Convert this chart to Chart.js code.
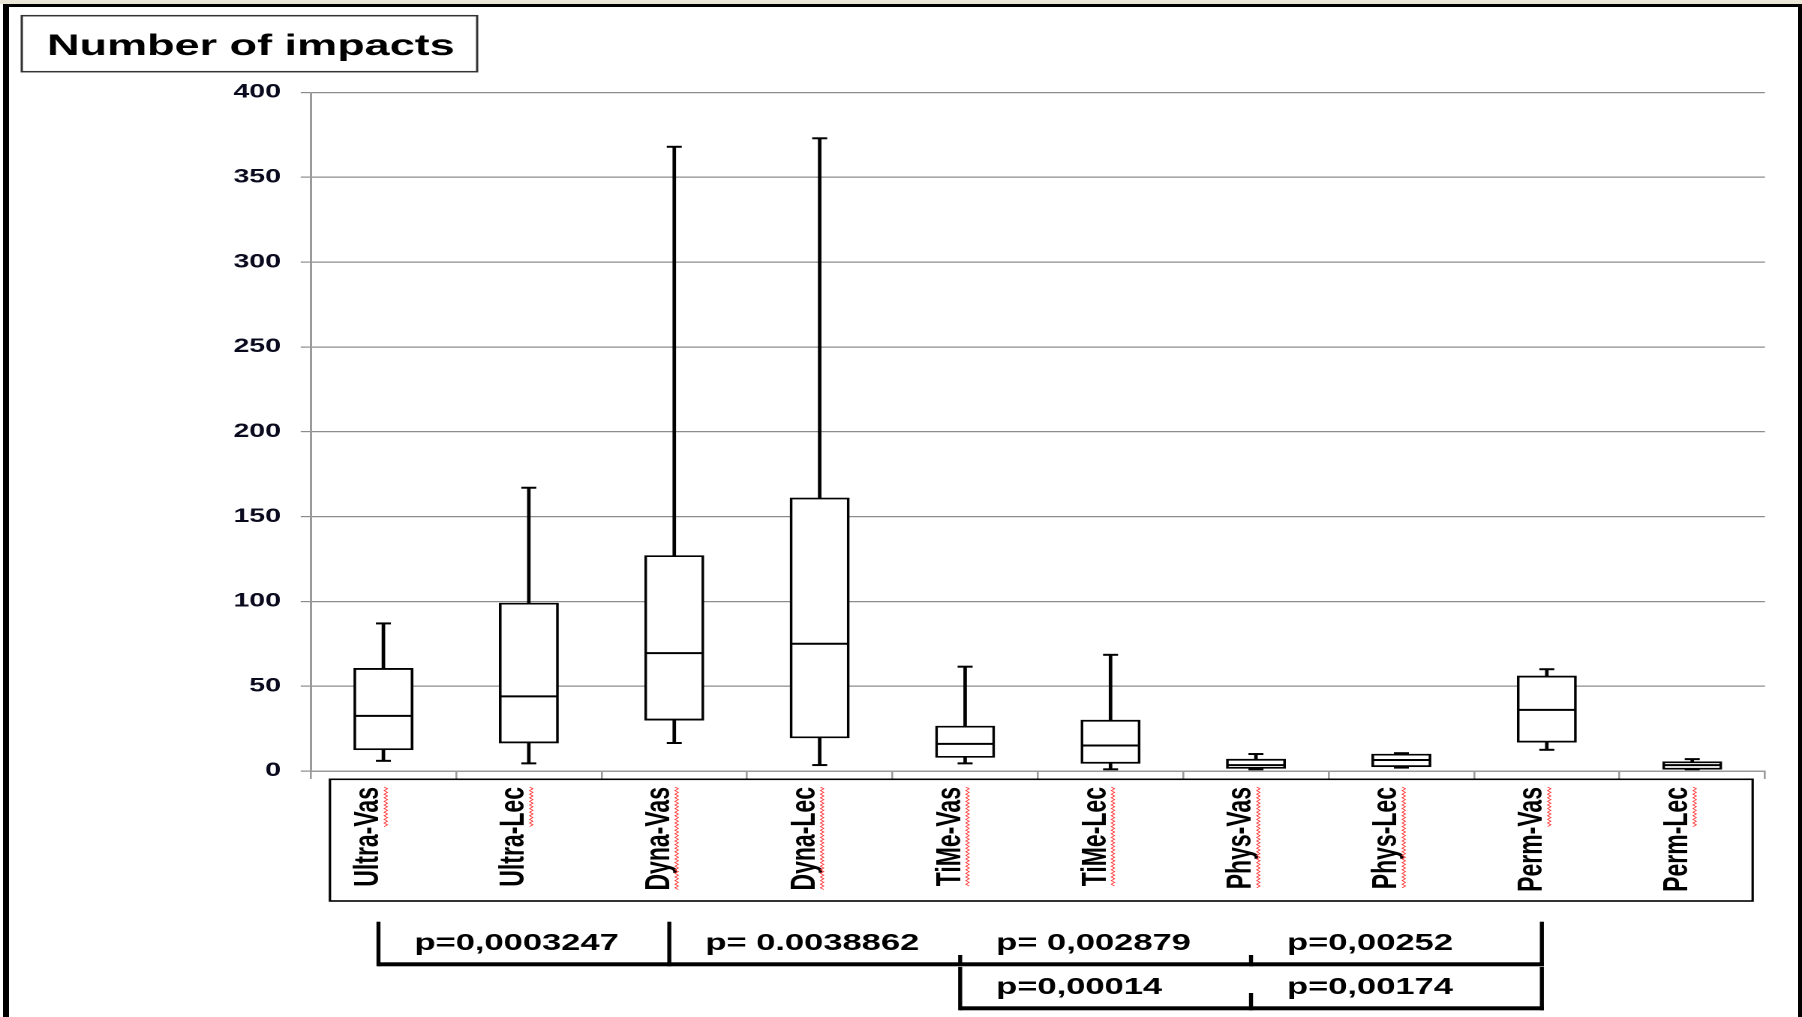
<!DOCTYPE html>
<html>
<head>
<meta charset="utf-8">
<script src="https://cdn.jsdelivr.net/npm/chart.js@4.4.1/dist/chart.umd.min.js"></script>
<style>
html,body{margin:0;padding:0;width:1802px;height:1017px;overflow:hidden;background:#fff;}
#strip{position:absolute;left:0;top:0;width:1802px;height:4px;background:#ebe7d6;}
#frame{position:absolute;left:3px;top:4px;width:1789px;height:1100px;border-left:6px solid #000;border-top:3px solid #000;border-right:4px solid #000;}
#wrap{position:absolute;left:0;top:0;width:1201px;height:1017px;transform:scaleX(1.500416);transform-origin:0 0;}
</style>
</head>
<body>
<div id="strip"></div>
<div id="frame"></div>
<div id="wrap"><canvas id="c" width="1201" height="1017"></canvas></div>
<script>
// ---- data ----
const categories   = ['Ultra-Vas','Ultra-Lec','Dyna-Vas','Dyna-Lec','TiMe-Vas','TiMe-Lec','Phys-Vas','Phys-Lec','Perm-Vas','Perm-Lec'];
const minValues    = [6,    4.5,  16.5, 3.5,  4.5,  1,    1,    2,    12.5, 1];
const q1Values     = [12.5, 16.5, 30,   19.5, 8,    4.5,  1.5,  2.5,  17,   1];
const medianValues = [32.5, 44,   69.5, 75,   16,   15,   3.5,  6.5,  36,   3.5];
const q3Values     = [60.5, 99,   127,  161,  26.5, 30,   7,    10,   56,   5.5];
const maxValues    = [87,   167,  368,  373,  61.5, 68.5, 10,   10.5, 60,   7];
const yTickValues  = [0, 50, 100, 150, 200, 250, 300, 350, 400];
const titleText    = 'Number of impacts';
const pRow1Labels  = ['p=0,0003247', 'p= 0.0038862', 'p= 0,002879', 'p=0,00252'];
const pRow2Labels  = ['p=0,00014', 'p=0,00174'];
const row1Anchors  = [0, 2, 4, 6, 8];
const row1Tall     = [true, true, false, false, true];
const row2Anchors  = [4, 6, 8];
const row2Tall     = [true, false, true];
const squiggleFull = [false, false, true, true, true, true, true, true, false, false];

const LABEL_FONT = {family: 'Liberation Sans', weight: 'bold', size: 23};
const X_TICK_LEN = 8, X_TICK_PAD = 8, X_LABEL_OFFSET = -9.7;

const deco = {
  id: 'deco',
  afterDraw(chart) {
    const ctx = chart.ctx, xs = chart.scales.x;
    ctx.save();
    // title box
    ctx.strokeStyle = '#333'; ctx.lineWidth = 1.5;
    ctx.strokeRect(14.5, 15.7, 303.5, 56);
    ctx.fillStyle = '#000';
    ctx.font = 'bold 30px "Liberation Sans"';
    ctx.textAlign = 'center'; ctx.textBaseline = 'alphabetic';
    ctx.fillText(titleText, 167.2, 55);
    // category label box
    ctx.strokeStyle = '#000'; ctx.lineWidth = 1.6;
    ctx.strokeRect(219.9, 779.3, 948.2, 121.7);
    // spell-check squiggles
    ctx.font = 'bold 23px "Liberation Sans"';
    ctx.strokeStyle = '#ff3030'; ctx.lineWidth = 0.7;
    const y0 = xs.top + X_TICK_LEN + X_TICK_PAD;
    categories.forEach((lab, i) => {
      const part = squiggleFull[i] ? lab : lab.split('-')[1];
      const len = ctx.measureText(part).width;
      const sx = xs.getPixelForValue(i) + X_LABEL_OFFSET + 11.3;
      ctx.beginPath();
      let k = 0;
      for (let y = y0; y <= y0 + len; y += 1.8, k++) {
        const x = sx + (k % 2 ? 1.1 : -1.1);
        if (k === 0) ctx.moveTo(x, y); else ctx.lineTo(x, y);
      }
      ctx.stroke();
    });
    // brackets
    const bx = i => xs.getPixelForValue(i) - 3.3;
    ctx.fillStyle = '#000';
    const vT = 2.7, hT = 4;
    const r1 = 964.3, r2 = 1008.3;
    ctx.fillRect(bx(row1Anchors[0]), r1 - hT / 2, bx(row1Anchors[row1Anchors.length - 1]) - bx(row1Anchors[0]) + vT / 2, hT);
    row1Anchors.forEach((a, k) => {
      const top = row1Tall[k] ? 921.7 : 955;
      ctx.fillRect(bx(a) - vT / 2, top, vT, r1 - top + hT / 2);
    });
    ctx.fillRect(bx(row2Anchors[0]), r2 - hT / 2, bx(row2Anchors[row2Anchors.length - 1]) - bx(row2Anchors[0]) + vT / 2, hT);
    row2Anchors.forEach((a, k) => {
      const top = row2Tall[k] ? 967 : 993;
      ctx.fillRect(bx(a) - vT / 2, top, vT, r2 - top + hT / 2);
    });
    ctx.font = 'bold 23px "Liberation Sans"';
    ctx.textAlign = 'left'; ctx.textBaseline = 'alphabetic';
    pRow1Labels.forEach((t, k) => ctx.fillText(t, bx(row1Anchors[k]) + 24, 950));
    pRow2Labels.forEach((t, k) => ctx.fillText(t, bx(row2Anchors[k]) + 24, 994));
    ctx.restore();
  }
};

const whiskers = categories.map((c, i) => [minValues[i], maxValues[i]]);
const boxes = categories.map((c, i) => [q1Values[i], q3Values[i]]);

new Chart(document.getElementById('c'), {
  type: 'bar',
  data: {
    labels: categories,
    datasets: [
      {type: 'bar', data: whiskers, grouped: false, barThickness: 1.7, backgroundColor: '#000', borderWidth: 0, order: 4},
      {type: 'bar', data: boxes, grouped: false, barThickness: 39.3, backgroundColor: '#fff', borderColor: '#000', borderWidth: 1.8, borderSkipped: false, order: 3},
      {type: 'line', data: medianValues, showLine: false, pointStyle: 'line', pointRadius: 19.4, pointHoverRadius: 19.4, pointBorderWidth: 2, pointBorderColor: '#000', order: 1, clip: false},
      {type: 'line', data: minValues, showLine: false, pointStyle: 'line', pointRadius: 5, pointHoverRadius: 5, pointBorderWidth: 2, pointBorderColor: '#000', order: 1, clip: false},
      {type: 'line', data: maxValues, showLine: false, pointStyle: 'line', pointRadius: 5, pointHoverRadius: 5, pointBorderWidth: 2, pointBorderColor: '#000', order: 1, clip: false}
    ]
  },
  options: {
    responsive: false,
    devicePixelRatio: 2,
    animation: false,
    layout: {padding: {top: 92.5, right: 24.7, bottom: 0, left: 0}},
    plugins: {legend: {display: false}, tooltip: {enabled: false}, title: {display: false}},
    scales: {
      x: {
        type: 'category', offset: true,
        grid: {offset: true, drawOnChartArea: false, drawTicks: true, tickLength: X_TICK_LEN, color: '#9a9a9a', tickWidth: 1.3, lineWidth: 1.3},
        border: {display: true, color: '#9a9a9a', width: 1.5},
        ticks: {autoSkip: false, minRotation: 90, maxRotation: 90, labelOffset: X_LABEL_OFFSET, padding: X_TICK_PAD, font: LABEL_FONT, color: '#000'},
        afterFit: s => { s.height = 1017 - 771; }
      },
      y: {
        min: 0, max: 400,
        afterBuildTicks: s => { s.ticks = yTickValues.map(v => ({value: v})); },
        grid: {color: '#8c8c8c', lineWidth: 1.2, tickLength: 6.66, drawTicks: true},
        border: {color: '#9a9a9a', width: 1.5},
        ticks: {padding: 13.1, font: {family: 'Liberation Sans', weight: 'bold', size: 19}, color: '#0a0a1e'},
        afterFit: s => { s.width = 207.07; }
      }
    }
  },
  plugins: [deco]
});
</script>
</body>
</html>
